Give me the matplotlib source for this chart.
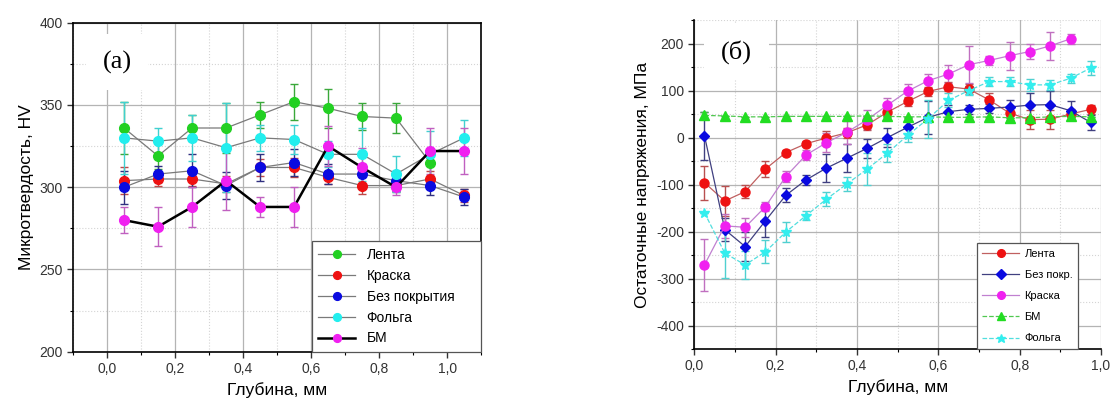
#!/usr/bin/env python3

import numpy as np
import matplotlib.pyplot as plt
from matplotlib.ticker import MultipleLocator, FuncFormatter

plt.rcParams['font.family'] = ['Liberation Sans', 'DejaVu Sans']
plt.rcParams['axes.unicode_minus'] = False

# ---- (a) microhardness ----
depth_a = [0.05, 0.15, 0.25, 0.35, 0.45, 0.55, 0.65, 0.75, 0.85, 0.95, 1.05]

lenta_a     = [336, 319, 336, 336, 344, 352, 348, 343, 342, 315]
lenta_a_err = [16, 8, 8, 15, 8, 11, 12, 8, 9, 8]
kraska_a     = [304, 305, 305, 302, 312, 312, 306, 301, 301, 305, 295]
kraska_a_err = [8, 4, 4, 5, 5, 6, 4, 5, 4, 5, 4]
bez_a     = [300, 308, 310, 301, 312, 315, 308, 308, 304, 301, 294]
bez_a_err = [10, 5, 10, 8, 8, 8, 6, 6, 6, 6, 5]
folga_a     = [330, 328, 330, 324, 330, 329, 320, 320, 308, 320, 330]
folga_a_err = [22, 8, 14, 27, 8, 9, 8, 16, 11, 14, 11]
bm_a     = [280, 276, 288, 304, 288, 288, 325, 312, 300, 322, 322]
bm_a_err = [8, 12, 12, 18, 6, 12, 12, 12, 5, 14, 14]

# ---- (б) residual stress ----
depth_b = [0.025, 0.075, 0.125, 0.175, 0.225, 0.275, 0.325, 0.375, 0.425, 0.475,
           0.525, 0.575, 0.625, 0.675, 0.725, 0.775, 0.825, 0.875, 0.925, 0.975]

lenta_b = [-96, -135, -115, -67, -32, -13, -1, 10, 27, 54,
           77, 98, 108, 103, 80, 52, 38, 39, 50, 60]
lenta_b_err = [36, 32, 14, 17, 6, 5, 14, 10, 10, 10,
               10, 10, 10, 10, 15, 15, 20, 20, 10, 10]
bez_b = [4, -196, -232, -177, -123, -90, -65, -44, -23, 0,
         22, 43, 55, 60, 62, 65, 69, 70, 57, 32]
bez_b_err = [51, 25, 30, 35, 15, 10, 30, 30, 20, 20,
             20, 35, 15, 10, 10, 15, 25, 30, 20, 15]
kraska_b = [-271, -188, -191, -147, -83, -37, -11, 11, 38, 69,
            99, 121, 135, 155, 164, 174, 183, 195, 210]
kraska_b_err = [55, 25, 20, 10, 12, 10, 20, 25, 20, 15,
                15, 15, 20, 40, 10, 30, 15, 30, 10]
bm_b = [47, 46, 44, 44, 45, 45, 45, 45, 46, 45,
        44, 44, 43, 43, 44, 42, 42, 44, 45, 44]
bm_b_err = [8, 0, 0, 0, 0, 0, 0, 0, 0, 0,
            0, 0, 0, 0, 0, 0, 0, 0, 0, 0]
folga_b = [-160, -246, -271, -243, -201, -166, -131, -99, -67, -33,
           5, 40, 79, 100, 119, 119, 112, 112, 126, 148]
folga_b_err = [0, 52, 30, 25, 22, 10, 15, 15, 35, 20,
               15, 40, 15, 10, 10, 10, 12, 10, 10, 15]


def comma(v, pos):
    return ('%.1f' % v).replace('.', ',')


def style_grid(ax):
    ax.grid(which='major', color='#b4b4b4', lw=0.9, ls='-')
    ax.grid(which='minor', color='#d4d4d4', lw=0.8, ls=':')
    ax.set_axisbelow(True)
    ax.tick_params(which='major', direction='out', length=4, width=1, labelsize=10, colors='#333333')
    ax.tick_params(which='minor', direction='out', length=2.5, width=0.8)


def main():
    fig = plt.figure(figsize=(11.1, 3.98), dpi=100)

    # --------- panel (a) ---------
    ax1 = fig.add_axes([0.0658, 0.1163, 0.3676, 0.8266])
    ax1.set_xlim([-0.1, 1.1])
    ax1.set_ylim([200, 400])
    ax1.xaxis.set_major_locator(MultipleLocator(0.2))
    ax1.xaxis.set_minor_locator(MultipleLocator(0.1))
    ax1.yaxis.set_major_locator(MultipleLocator(50))
    ax1.yaxis.set_minor_locator(MultipleLocator(25))
    ax1.xaxis.set_major_formatter(FuncFormatter(comma))
    style_grid(ax1)
    for s in ax1.spines.values():
        s.set_linewidth(1.2)

    series_a = [
        ('Лента', lenta_a, lenta_a_err, '#22d022', '#3aa83a'),
        ('Краска', kraska_a, kraska_a_err, '#ee1111', '#c04848'),
        ('Без покрытия', bez_a, bez_a_err, '#0a0ae0', '#303080'),
        ('Фольга', folga_a, folga_a_err, '#22eeee', '#40d0d0'),
    ]
    for lab, y, e, c, ec in series_a:
        x = depth_a[:len(y)]
        ax1.errorbar(x, y, yerr=e, fmt='none', ecolor=ec, elinewidth=1, capsize=3, zorder=2)
        ax1.plot(x, y, color='#7a7a7a', lw=0.9, marker='o', ms=7,
                 mfc=c, mec=c, label=lab, zorder=3)
    ax1.errorbar(depth_a, bm_a, yerr=bm_a_err, fmt='none', ecolor='#c060c0',
                 elinewidth=1, capsize=3, zorder=2)
    ax1.plot(depth_a, bm_a, color='black', lw=1.8, marker='o', ms=7,
             mfc='#f020f0', mec='#f020f0', label='БМ', zorder=4)

    ax1.set_xlabel('Глубина, мм', fontsize=12.5)
    ax1.set_ylabel('Микротвердость, HV', fontsize=12.5)
    ax1.text(0.108, 0.88, '(a)', transform=ax1.transAxes, fontsize=19,
             family='Liberation Serif', ha='center', va='center', zorder=6,
             bbox=dict(facecolor='white', edgecolor='none', pad=12))
    leg = ax1.legend(loc='lower left', bbox_to_anchor=(0.585, 0, 0.415, 0.33),
                     mode='expand', fontsize=10, borderaxespad=0, fancybox=False,
                     edgecolor='#555555', framealpha=1, handlelength=2.7,
                     handletextpad=0.8, labelspacing=0.5, borderpad=0.45,
                     markerscale=0.8)
    leg.get_frame().set_linewidth(0.9)
    leg.set_zorder(10)

    # --------- panel (б) ---------
    ax2 = fig.add_axes([0.6255, 0.1231, 0.3664, 0.8266])
    ax2.set_xlim([0, 1.0])
    ax2.set_ylim([-450, 250])
    ax2.xaxis.set_major_locator(MultipleLocator(0.2))
    ax2.xaxis.set_minor_locator(MultipleLocator(0.1))
    ax2.yaxis.set_major_locator(MultipleLocator(100))
    ax2.yaxis.set_minor_locator(MultipleLocator(50))
    ax2.xaxis.set_major_formatter(FuncFormatter(comma))
    ax2.set_yticks([-400, -300, -200, -100, 0, 100, 200])
    style_grid(ax2)
    ax2.spines['top'].set_visible(False)
    ax2.spines['right'].set_visible(False)
    ax2.spines['left'].set_linewidth(1.2)
    ax2.spines['bottom'].set_linewidth(1.2)

    series_b = [
        ('Лента', lenta_b, lenta_b_err, 'o', '#ee1111', '#b85050', '#c06060', '-', 6.5),
        ('Без покр.', bez_b, bez_b_err, 'D', '#0a0ae0', '#404080', '#404080', '-', 5.5),
        ('Краска', kraska_b, kraska_b_err, 'o', '#f020f0', '#c070c0', '#c080d0', '-', 6.5),
        ('БМ', bm_b, bm_b_err, '^', '#22dd22', '#50b050', '#50c850', '--', 6.5),
        ('Фольга', folga_b, folga_b_err, '*', '#33eeee', '#50d0d0', '#50dede', '--', 7.5),
    ]
    for lab, y, e, m, c, ec, lc, ls, ms in series_b:
        x = depth_b[:len(y)]
        ax2.errorbar(x, y, yerr=e, fmt='none', ecolor=ec, elinewidth=1, capsize=3, zorder=2)
        ax2.plot(x, y, color=lc, lw=0.9, ls=ls, marker=m, ms=ms,
                 mfc=c, mec=c, label=lab, zorder=3)

    ax2.set_xlabel('Глубина, мм', fontsize=12.5)
    ax2.set_ylabel('Остаточные напряжения, МПа', fontsize=12.5)
    ax2.text(0.104, 0.904, '(б)', transform=ax2.transAxes, fontsize=19,
             family='Liberation Serif', ha='center', va='center', zorder=6,
             bbox=dict(facecolor='white', edgecolor='none', pad=12))
    leg2 = ax2.legend(loc='lower right', bbox_to_anchor=(0.943, 0), fontsize=8,
                      borderaxespad=0, fancybox=False, edgecolor='#555555',
                      framealpha=1, handlelength=3.3, handletextpad=0.5,
                      labelspacing=1.0, borderpad=0.5, markerscale=0.85)
    leg2.get_frame().set_linewidth(0.9)
    leg2.set_zorder(10)

    plt.savefig('out.png', dpi=100)


if __name__ == '__main__':
    main()
